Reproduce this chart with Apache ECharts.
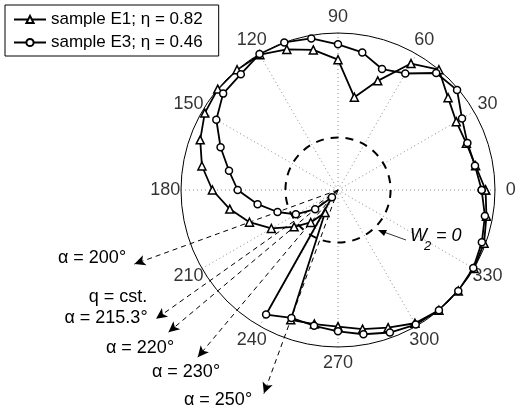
<!DOCTYPE html>
<html><head><meta charset="utf-8">
<script src="https://cdn.jsdelivr.net/npm/echarts@6/dist/echarts.min.js"></script>
<style>html,body{margin:0;padding:0;background:#fff}#c{width:518px;height:410px}</style>
</head><body><div id="c"></div>
<script>
// ---- data ----
const angles = [0,10,20,30,40,50,60,70,80,90,100,110,120,130,140,150,160,170,180,190,200,210,220,230,240,250,260,270,280,290,300,310,320,330,340,350];
const sampleE1 = [0.94,0.89,0.87,0.87,0.915,1.0,0.93,0.74,0.60,0.83,0.906,0.953,0.995,1.0,1.0,0.98,0.934,0.88,0.80,0.70,0.60,0.49,0.365,0.27,0.165,0.88,0.867,0.87,0.90,0.933,0.98,1.0,1.0,1.0,0.99,0.96];
const sampleE3 = [0.915,0.886,0.877,0.912,0.99,0.973,0.857,0.82,0.89,0.928,0.98,1.0,1.0,0.963,0.955,0.895,0.796,0.705,0.639,0.52,0.41,0.31,0.19,0.06,0.916,0.867,0.878,0.90,0.933,0.966,0.99,1.0,1.0,0.995,0.975,0.95];
const seriesNames = ['sample E1; \u03b7 = 0.82','sample E3; \u03b7 = 0.46'];
const angleTicks = [0,30,60,90,120,150,180,210,240,270,300,330];
const alphaAngles = [200,215.3,220,230,250];
const alphaTipR = [1.38,1.42,1.41,1.39,1.38];
const alphaLabels = ['\u03b1 = 200\u00b0','\u03b1 = 215.3\u00b0','\u03b1 = 220\u00b0','\u03b1 = 230\u00b0','\u03b1 = 250\u00b0'];
const qLabel = 'q = cst.';
const w2Zero = 0.335;
const rMax = 1;
const tickLabelR = 1.1;

// ---- layout ----
const CX = 338, CY = 190, R = 157;
const OUTER = 1.5; // extent of the annotation polar, in units of rMax
const FONT = '"Liberation Sans", Arial, Helvetica, sans-serif';
const alphaLabelPos = [[92,258],[106,318],[140,348],[186,372],[218,400]];

const chart = echarts.init(document.getElementById('c'));
function pairs(vals){ const p = angles.map((a,i)=>[vals[i],a]); p.push(p[0]); return p; }

const alphaSeries = alphaAngles.map((a,i)=>({
  type:'line', coordinateSystem:'polar', polarIndex:2, clip:false, silent:true, z:1,
  showSymbol:true, showAllSymbol:true,
  lineStyle:{color:'#000', width:1, type:[5,4]},
  data:[
    {value:[0,a], symbol:'none'},
    {value:[alphaTipR[i],a], symbol:'arrow', symbolSize:[8,11], symbolRotate:a-90, itemStyle:{color:'#000', borderWidth:0}}
  ]
}));

const graphics = [];
alphaLabels.forEach((t,i)=>{
  graphics.push({type:'text', x:alphaLabelPos[i][0], y:alphaLabelPos[i][1], silent:true,
    style:{text:t, font:'18px '+FONT, fill:'#000', align:'center', verticalAlign:'middle'}});
});
graphics.push({type:'text', x:118, y:297, silent:true,
  style:{text:qLabel, font:'18px '+FONT, fill:'#000', align:'center', verticalAlign:'middle'}});
// W2 = 0 annotation
graphics.push({type:'text', x:410, y:236, silent:true, style:{text:'W', font:'italic 18px '+FONT, fill:'#000', align:'left', verticalAlign:'middle'}});
graphics.push({type:'text', x:424, y:246, silent:true, style:{text:'2', font:'italic 13px '+FONT, fill:'#000', align:'left', verticalAlign:'middle'}});
graphics.push({type:'text', x:436, y:236, silent:true, style:{text:'= 0', font:'italic 18px '+FONT, fill:'#000', align:'left', verticalAlign:'middle'}});
graphics.push({type:'line', silent:true, shape:{x1:406, y1:240, x2:381, y2:231}, style:{stroke:'#000', lineWidth:0.8}});
graphics.push({type:'polygon', silent:true, shape:{points:[[378,230],[387,230],[384,236]]}, style:{fill:'#000'}});

const hiddenRadius = (idx,max)=>({polarIndex:idx, type:'value', min:0, max:max, show:false,
  axisLine:{show:false}, axisTick:{show:false}, axisLabel:{show:false}, splitLine:{show:false}});

chart.setOption({
  animation:false,
  backgroundColor:'#fff',
  textStyle:{fontFamily:FONT},
  legend:{
    data:seriesNames, left:5, top:5, orient:'vertical',
    borderColor:'#000', borderWidth:1, borderRadius:0, backgroundColor:'#fff',
    padding:[6,16,5,8], itemGap:6, itemWidth:32, itemHeight:9,
    textStyle:{fontSize:17, color:'#000', fontFamily:'Liberation Sans'},
    selectedMode:false
  },
  polar:[
    {center:[CX,CY], radius:R},
    {center:[CX,CY], radius:R*w2Zero/rMax},
    {center:[CX,CY], radius:R*OUTER}
  ],
  angleAxis:[
    {polarIndex:0, type:'value', min:0, max:360, interval:30, startAngle:0, clockwise:false,
     axisLine:{show:true, lineStyle:{color:'#000', width:1}},
     axisTick:{show:false}, axisLabel:{show:false},
     splitLine:{show:true, lineStyle:{color:'#8a8a8a', width:1, type:[1,3]}}},
    {polarIndex:1, type:'value', min:0, max:360, startAngle:0, clockwise:false,
     axisLine:{show:true, lineStyle:{color:'#000', width:2, type:[8,7]}},
     axisTick:{show:false}, axisLabel:{show:false}, splitLine:{show:false}},
    {polarIndex:2, type:'value', min:0, max:360, startAngle:0, clockwise:false, show:false,
     axisLine:{show:false}, axisTick:{show:false}, axisLabel:{show:false}, splitLine:{show:false}}
  ],
  radiusAxis:[ hiddenRadius(0,rMax), hiddenRadius(1,rMax), hiddenRadius(2,OUTER*rMax) ],
  series:[
    ...alphaSeries,
    {type:'scatter', coordinateSystem:'polar', polarIndex:2, silent:true, z:2,
     data:angleTicks.map(a=>[tickLabelR,a]), symbol:'circle', symbolSize:1,
     itemStyle:{color:'rgba(0,0,0,0)'},
     label:{show:true, position:'inside', formatter:p=>String(p.value[1]), fontSize:18, color:'#000', fontFamily:FONT}},
    {name:seriesNames[0], type:'line', coordinateSystem:'polar', polarIndex:0, clip:false, z:3,
     data:pairs(sampleE1), symbol:'triangle', symbolSize:8, showAllSymbol:true,
     lineStyle:{color:'#000', width:1.8}, itemStyle:{color:'#fff', borderColor:'#000', borderWidth:1.5}},
    {name:seriesNames[1], type:'line', coordinateSystem:'polar', polarIndex:0, clip:false, z:4,
     data:pairs(sampleE3), symbol:'circle', symbolSize:7, showAllSymbol:true,
     lineStyle:{color:'#000', width:1.8}, itemStyle:{color:'#fff', borderColor:'#000', borderWidth:1.5}}
  ],
  graphic:graphics
});
</script></body></html>
